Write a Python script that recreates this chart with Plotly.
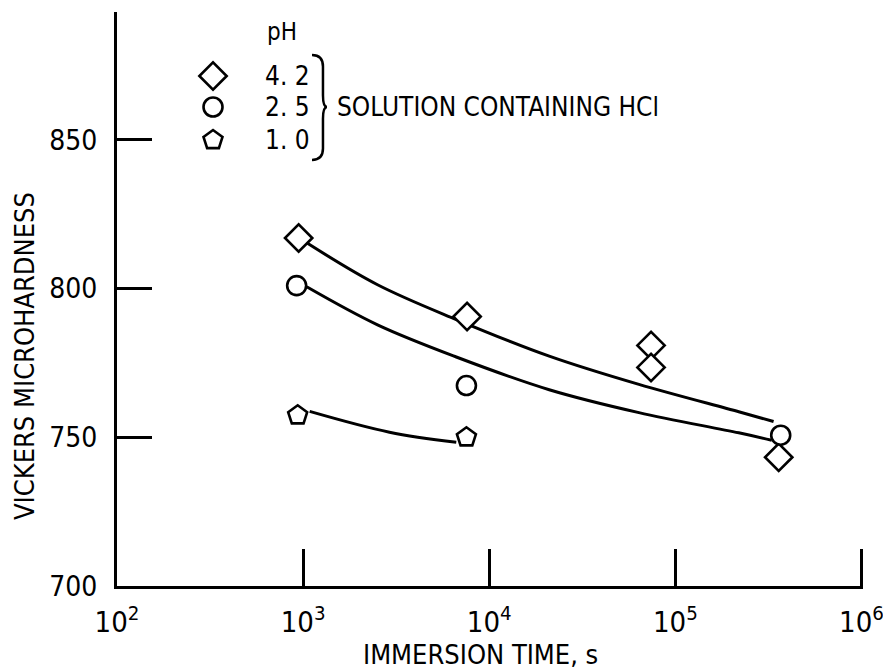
import plotly.graph_objects as go

FONT = "Liberation Sans Narrow, DejaVu Sans Condensed, Arial Narrow, sans-serif"

# ---- data ----
t_ph42 = [946, 7600, 74000, 74000, 359000]
hv_ph42 = [817, 790.6, 780.9, 773.5, 743.3]

t_ph25 = [923, 7540, 368000]
hv_ph25 = [801, 767.4, 750.7]

t_ph10 = [935, 7540]
hv_ph10 = [757.4, 750.0]

# faired curves
curve42_t = [1045, 2510, 6650, 21000, 63700, 219000, 337000]
curve42_hv = [815.4, 801.3, 789.6, 777.3, 767.8, 758.6, 755.3]
curve25_t = [1045, 2510, 6650, 21000, 63700, 219000, 329000]
curve25_hv = [800.6, 787.8, 777.0, 766.0, 758.3, 751.5, 749.0]
curve10_t = [1084, 2910, 6650]
curve10_hv = [758.7, 751.7, 748.3]

x_tickvals = [100, 1000, 10000, 100000, 1000000]
x_ticktext = ["10<sup>2</sup>", "10<sup>3</sup>", "10<sup>4</sup>", "10<sup>5</sup>", "10<sup>6</sup>"]
y_tickvals = [700, 750, 800, 850]
y_range = [700, 893]
x_range_log = [2, 6.008]

legend_labels = ["4. 2", "2. 5", "1. 0"]
legend_symbols = ["diamond", "circle", "pentagon"]

fig = go.Figure()

line_style = dict(color="black", width=3, shape="spline", smoothing=1.0)
for ct, ch in [(curve42_t, curve42_hv), (curve25_t, curve25_hv), (curve10_t, curve10_hv)]:
    fig.add_trace(go.Scatter(x=ct, y=ch, mode="lines", line=line_style,
                             hoverinfo="skip", showlegend=False))

mk = dict(color="white", line=dict(color="black", width=2.6))
fig.add_trace(go.Scatter(x=t_ph42, y=hv_ph42, mode="markers",
                         marker=dict(mk, symbol="diamond", size=21), showlegend=False))
fig.add_trace(go.Scatter(x=t_ph25, y=hv_ph25, mode="markers",
                         marker=dict(mk, symbol="circle", size=19), showlegend=False))
fig.add_trace(go.Scatter(x=t_ph10, y=hv_ph10, mode="markers",
                         marker=dict(mk, symbol="pentagon", size=20), showlegend=False))

# legend key (drawn on an overlay axis in paper-like units)
leg_y = [0.8885, 0.8345, 0.777]
leg_x = 0.1287
leg_sizes = [21, 19, 20]
for s, yy, sz in zip(legend_symbols, leg_y, leg_sizes):
    fig.add_trace(go.Scatter(x=[leg_x], y=[yy], xaxis="x2", yaxis="y2", mode="markers",
                             marker=dict(symbol=s, size=sz, color="white",
                                         line=dict(color="black", width=2.6)),
                             showlegend=False, hoverinfo="skip"))

# empty trace so the inside-tick overlay axes exist
fig.add_trace(go.Scatter(x=[], y=[], xaxis="x3", yaxis="y3", showlegend=False, hoverinfo="skip"))

annotations = [
    dict(text="pH", x=0.2212, y=0.965, xref="paper", yref="paper", showarrow=False,
         font=dict(size=24, family=FONT, color="black"), xanchor="center", yanchor="middle"),
    dict(text="SOLUTION CONTAINING HCl", x=0.2922, y=0.8345, xref="paper", yref="paper",
         showarrow=False, font=dict(size=26, family=FONT, color="black"),
         xanchor="left", yanchor="middle"),
    dict(text="IMMERSION TIME, s", x=0.4866, y=-0.1185, xref="paper", yref="paper",
         showarrow=False, font=dict(size=27, family=FONT, color="black"),
         xanchor="center", yanchor="middle"),
    dict(text="VICKERS MICROHARDNESS", x=-0.1233, y=0.4007, xref="paper", yref="paper",
         showarrow=False, textangle=-90, font=dict(size=27, family=FONT, color="black"),
         xanchor="center", yanchor="middle"),
]
for lab, yy in zip(legend_labels, leg_y):
    annotations.append(dict(text=lab, x=0.1957, y=yy, xref="paper", yref="paper",
                            showarrow=False, font=dict(size=26, family=FONT, color="black"),
                            xanchor="left", yanchor="middle"))

brace = ("M 0.2614 0.9251 Q 0.2761 0.9251 0.2761 0.905 L 0.2761 0.855 "
         "Q 0.2761 0.8345 0.2815 0.8345 Q 0.2761 0.8345 0.2761 0.814 "
         "L 0.2761 0.762 Q 0.2761 0.7422 0.2614 0.7422")
shapes = [dict(type="path", path=brace, xref="paper", yref="paper",
               line=dict(color="black", width=2.5))]

fig.update_layout(
    width=883, height=669,
    margin=dict(l=117, r=20, t=12, b=83),
    paper_bgcolor="white", plot_bgcolor="white",
    font=dict(family=FONT, color="black", size=24),
    annotations=annotations, shapes=shapes,
    # main axes: carry the labels (transparent outside ticks set the label gap)
    xaxis=dict(type="log", range=x_range_log, tickvals=x_tickvals, ticktext=x_ticktext,
               ticks="outside", ticklen=8, tickcolor="rgba(0,0,0,0)",
               showline=True, linewidth=3, linecolor="black", showgrid=False, zeroline=False,
               tickfont=dict(size=29, family=FONT), automargin=False,
               ticklabeloverflow="allow"),
    yaxis=dict(range=y_range, tickvals=y_tickvals,
               ticks="outside", ticklen=11, tickcolor="rgba(0,0,0,0)",
               showline=True, linewidth=3, linecolor="black", showgrid=False, zeroline=False,
               tickfont=dict(size=28, family=FONT), automargin=False),
    # overlay axes: the long inside ticks, no labels
    xaxis3=dict(type="log", overlaying="x", anchor="y3", range=x_range_log, tickvals=x_tickvals,
                ticks="inside", ticklen=37, tickwidth=2.5, tickcolor="black",
                showticklabels=False, showline=False, showgrid=False, zeroline=False),
    yaxis3=dict(overlaying="y", anchor="x3", range=y_range, tickvals=y_tickvals,
                ticks="inside", ticklen=35, tickwidth=2.5, tickcolor="black",
                showticklabels=False, showline=False, showgrid=False, zeroline=False),
    xaxis2=dict(overlaying="x", range=[0, 1], visible=False),
    yaxis2=dict(overlaying="y", range=[0, 1], visible=False),
)

fig.write_html("out.html")
